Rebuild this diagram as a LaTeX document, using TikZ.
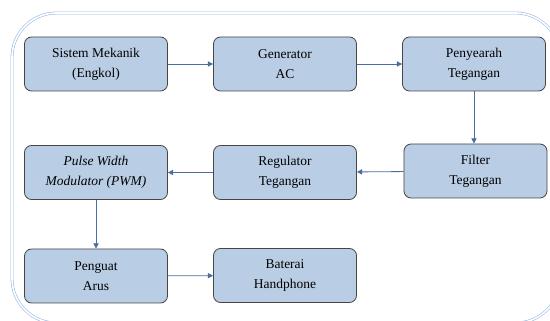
\documentclass[tikz,border=0pt]{standalone}
\usepackage{fontspec}
\setmainfont{Liberation Serif}
\usetikzlibrary{arrows.meta}
\definecolor{boxfill}{RGB}{185,205,229}
\definecolor{boxline}{RGB}{70,70,70}
\definecolor{flowline}{RGB}{75,110,160}
\definecolor{framecol}{RGB}{150,185,230}
\begin{document}
\begin{tikzpicture}[x=0.03cm,y=-0.03cm]
\tikzset{block/.style = {shape=rectangle,rounded corners=6pt,draw=boxline,line width=0.7pt,fill=boxfill,minimum width=4.29cm,minimum height=1.62cm,align=center,font=\fontsize{11.5}{17}\selectfont}}
\tikzset{flow/.style = {draw=flowline,line width=0.7pt,-{Triangle[length=4.5pt,width=4.5pt]}}}
\useasboundingbox (0,0) rectangle (550,321);
% outer frame, cut off at the right and bottom
\begin{scope}
\clip (0,0) rectangle (550,321);
\draw[framecol,line width=0.5pt,double=white,double distance=1.4pt,rounded corners=38pt] (12,13) rectangle (560,323);
\end{scope}
% first row
\node[block] (mek) at (96,64) {Sistem Mekanik\\(Engkol)};
\node[block] (gen) at (285,64) {Generator\\AC};
\node[block] (rect) at (474,64) {Penyearah\\Tegangan};
% second row
\node[block] (pwm) at (96,172.5) {\textit{Pulse Width}\\\textit{Modulator (PWM)}};
\node[block] (reg) at (285,172.5) {Regulator\\Tegangan};
\node[block] (filt) at (475.5,171) {Filter\\Tegangan};
% third row
\node[block] (amp) at (96,276) {Penguat\\Arus};
\node[block] (bat) at (285,275.5) {Baterai\\Handphone};
% signal flow
\draw[flow] (mek) to (gen);
\draw[flow] (gen) to (rect);
\draw[flow] (rect) to (rect |- filt.north);
\draw[flow] (filt) to (reg);
\draw[flow] (reg) to (pwm);
\draw[flow] (pwm) to (amp);
\draw[flow] (amp) to (bat);
\end{tikzpicture}
\end{document}
